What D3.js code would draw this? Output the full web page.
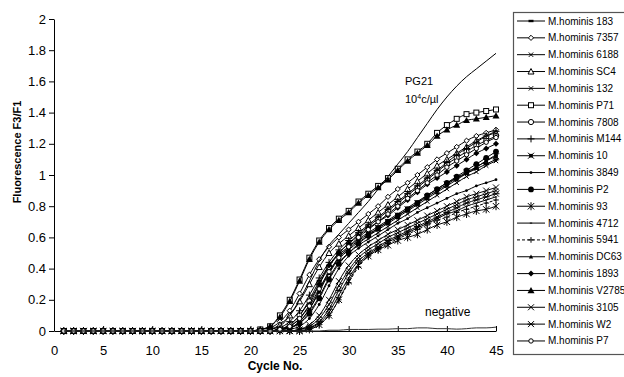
<!DOCTYPE html>
<html>
<head>
<meta charset="utf-8">
<script src="https://cdn.jsdelivr.net/npm/d3@7"></script>
<style>
  body { margin: 0; background: #fff; }
  text { font-family: "Liberation Sans", Arial, sans-serif; fill: #000; }
</style>
</head>
<body>
<svg id="chart" width="624" height="377"></svg>
<script>
// ---- data ----
const cycles = [1,2,3,4,5,6,7,8,9,10,11,12,13,14,15,16,17,18,19,20,21,22,23,24,25,26,27,28,29,30,31,32,33,34,35,36,37,38,39,40,41,42,43,44,45];
const xTicks = [0,5,10,15,20,25,30,35,40,45];
const yTicks = [0,0.2,0.4,0.6,0.8,1,1.2,1.4,1.6,1.8,2];

const seriesNames = ["M.hominis 183","M.hominis 7357","M.hominis 6188","M.hominis SC4","M.hominis 132",
  "M.hominis P71","M.hominis 7808","M.hominis M144","M.hominis 10","M.hominis 3849","M.hominis P2",
  "M.hominis 93","M.hominis 4712","M.hominis 5941","M.hominis DC63","M.hominis 1893","M.hominis V2785",
  "M.hominis 3105","M.hominis W2","M.hominis P7"];

const m183   = [0,0,0,0,0,0,0,0,0,0,0,0,0,0,0,0,0,0,0,0, 0,0,0.01,0.04,0.1,0.2,0.32,0.42,0.49,0.54,0.59,0.63,0.67,0.71,0.75,0.79,0.83,0.87,0.91,0.95,0.98,1.01,1.04,1.07,1.10];
const m7357  = [0,0,0,0,0,0,0,0,0,0,0,0,0,0,0,0,0,0,0,0, 0.01,0.02,0.06,0.13,0.24,0.36,0.46,0.54,0.6,0.65,0.7,0.75,0.8,0.86,0.91,0.95,1.0,1.05,1.1,1.14,1.18,1.22,1.25,1.27,1.29];
const m6188  = [0,0,0,0,0,0,0,0,0,0,0,0,0,0,0,0,0,0,0,0, 0,0,0.01,0.02,0.05,0.12,0.22,0.34,0.44,0.5,0.55,0.59,0.63,0.67,0.71,0.75,0.79,0.83,0.87,0.91,0.95,0.99,1.02,1.06,1.09];
const mSC4   = [0,0,0,0,0,0,0,0,0,0,0,0,0,0,0,0,0,0,0,0, 0,0.01,0.04,0.1,0.19,0.3,0.41,0.5,0.56,0.61,0.66,0.71,0.76,0.81,0.86,0.91,0.96,1.01,1.06,1.1,1.14,1.18,1.22,1.25,1.27];
const m132   = [0,0,0,0,0,0,0,0,0,0,0,0,0,0,0,0,0,0,0,0, 0,0,0,0,0.01,0.03,0.08,0.17,0.29,0.39,0.47,0.52,0.56,0.6,0.63,0.66,0.69,0.72,0.75,0.78,0.81,0.84,0.86,0.88,0.9];
const mP71   = [0,0,0,0,0,0,0,0,0,0,0,0,0,0,0,0,0,0,0,0, 0.01,0.03,0.1,0.2,0.33,0.47,0.58,0.66,0.72,0.77,0.83,0.88,0.93,0.98,1.04,1.1,1.15,1.2,1.27,1.32,1.36,1.39,1.4,1.41,1.42];
const m7808  = [0,0,0,0,0,0,0,0,0,0,0,0,0,0,0,0,0,0,0,0, 0,0,0.01,0.04,0.1,0.19,0.3,0.41,0.5,0.56,0.62,0.67,0.72,0.77,0.82,0.87,0.92,0.97,1.02,1.07,1.11,1.15,1.19,1.22,1.25];
const mM144  = [0,0,0,0,0,0,0,0,0,0,0,0,0,0,0,0,0,0,0,0, 0,0,0.02,0.06,0.13,0.23,0.34,0.44,0.52,0.58,0.63,0.68,0.73,0.78,0.83,0.88,0.93,0.98,1.03,1.08,1.13,1.17,1.21,1.25,1.28];
const m10    = [0,0,0,0,0,0,0,0,0,0,0,0,0,0,0,0,0,0,0,0, 0,0,0.01,0.02,0.06,0.14,0.26,0.38,0.47,0.53,0.58,0.62,0.66,0.7,0.74,0.78,0.82,0.86,0.9,0.94,0.98,1.02,1.05,1.09,1.12];
const m3849  = [0,0,0,0,0,0,0,0,0,0,0,0,0,0,0,0,0,0,0,0, 0,0,0,0.01,0.03,0.08,0.17,0.29,0.4,0.48,0.53,0.57,0.61,0.65,0.69,0.72,0.76,0.79,0.82,0.85,0.88,0.9,0.93,0.95,0.97];
const mP2    = [0,0,0,0,0,0,0,0,0,0,0,0,0,0,0,0,0,0,0,0, 0,0,0.01,0.02,0.05,0.11,0.21,0.33,0.43,0.5,0.56,0.61,0.66,0.7,0.74,0.78,0.82,0.87,0.91,0.95,0.99,1.03,1.07,1.11,1.15];
const m93    = [0,0,0,0,0,0,0,0,0,0,0,0,0,0,0,0,0,0,0,0, 0,0,0,0,0,0.01,0.04,0.1,0.2,0.32,0.42,0.48,0.52,0.55,0.58,0.6,0.62,0.65,0.68,0.7,0.73,0.75,0.77,0.78,0.8];
const m4712  = [0,0,0,0,0,0,0,0,0,0,0,0,0,0,0,0,0,0,0,0, 0,0,0,0,0.01,0.02,0.05,0.12,0.23,0.34,0.43,0.49,0.53,0.57,0.6,0.63,0.66,0.69,0.72,0.75,0.77,0.8,0.82,0.84,0.86];
const m5941  = [0,0,0,0,0,0,0,0,0,0,0,0,0,0,0,0,0,0,0,0, 0,0,0,0,0,0.01,0.04,0.1,0.2,0.31,0.41,0.48,0.52,0.56,0.59,0.62,0.65,0.68,0.71,0.73,0.76,0.78,0.8,0.82,0.84];
const mDC63  = [0,0,0,0,0,0,0,0,0,0,0,0,0,0,0,0,0,0,0,0, 0,0,0.01,0.02,0.06,0.14,0.25,0.37,0.46,0.52,0.57,0.61,0.65,0.69,0.73,0.77,0.81,0.85,0.89,0.93,0.97,1.01,1.05,1.09,1.13];
const m1893  = [0,0,0,0,0,0,0,0,0,0,0,0,0,0,0,0,0,0,0,0, 0,0,0.01,0.03,0.08,0.17,0.3,0.42,0.5,0.56,0.61,0.66,0.7,0.74,0.79,0.84,0.89,0.94,0.98,1.02,1.06,1.1,1.14,1.17,1.2];
const mV2785 = [0,0,0,0,0,0,0,0,0,0,0,0,0,0,0,0,0,0,0,0, 0.01,0.03,0.09,0.19,0.32,0.46,0.57,0.65,0.71,0.76,0.82,0.87,0.92,0.97,1.03,1.09,1.14,1.19,1.25,1.29,1.32,1.35,1.36,1.37,1.38];
const m3105  = [0,0,0,0,0,0,0,0,0,0,0,0,0,0,0,0,0,0,0,0, 0,0,0,0,0.01,0.04,0.1,0.2,0.32,0.42,0.49,0.54,0.58,0.62,0.65,0.68,0.71,0.74,0.77,0.8,0.83,0.86,0.88,0.9,0.92];
const mW2    = [0,0,0,0,0,0,0,0,0,0,0,0,0,0,0,0,0,0,0,0, 0,0,0,0,0,0.02,0.06,0.14,0.26,0.37,0.45,0.5,0.54,0.58,0.61,0.64,0.67,0.7,0.73,0.76,0.79,0.82,0.84,0.86,0.88];
const mP7    = [0,0,0,0,0,0,0,0,0,0,0,0,0,0,0,0,0,0,0,0, 0,0,0.01,0.03,0.08,0.16,0.27,0.38,0.47,0.54,0.6,0.65,0.7,0.75,0.8,0.85,0.9,0.95,1.0,1.05,1.09,1.13,1.17,1.21,1.24];

// positive control and negative control, drawn as plain lines
const pg21     = [0,0,0,0,0,0,0,0,0,0,0,0,0,0,0,0,0,0,0,0, 0,0.01,0.03,0.1,0.2,0.32,0.45,0.55,0.62,0.69,0.76,0.83,0.91,0.99,1.07,1.15,1.24,1.33,1.42,1.5,1.57,1.63,1.68,1.73,1.78];
const negative = [0,0,0,0,0,0,0,0,0,0,0,0,0,0,0,0,0,0,0,0, 0,0,0,0,0,0,0,0.005,0.005,0.01,0.01,0.01,0.012,0.012,0.015,0.015,0.02,0.02,0.015,0.015,0.012,0.015,0.02,0.02,0.025];

const seriesValues = [m183,m7357,m6188,mSC4,m132,mP71,m7808,mM144,m10,m3849,mP2,m93,m4712,m5941,mDC63,m1893,mV2785,m3105,mW2,mP7];

// marker style per series (same order as names)
const markerTypes = ["dash","diamondOpen","crossSmall","triOpen","crossSmall","squareOpen","circleOpen","plus",
  "starBox","dot","circleFill","asterisk","tiny","plusSmall","triSmall","diamondFill","triFill","cross","crossBar","circleSmall"];

// ---- chart ----
const svg = d3.select("#chart");
const x = d3.scaleLinear().domain([0, 45]).range([54, 496]);
const y = d3.scaleLinear().domain([0, 2]).range([331, 19]);

function drawMarker(g, type) {
  const ink = "#000";
  switch (type) {
    case "dash":
      g.append("rect").attr("x", -2.5).attr("y", -1.2).attr("width", 5).attr("height", 2.4).attr("fill", ink);
      break;
    case "diamondOpen":
      g.append("path").attr("d", "M0,-2.6L2.6,0L0,2.6L-2.6,0Z").attr("fill", "#fff").attr("stroke", ink);
      break;
    case "crossSmall":
      g.append("path").attr("d", "M-2.2,-2.2L2.2,2.2M-2.2,2.2L2.2,-2.2").attr("stroke", ink);
      break;
    case "triOpen":
      g.append("path").attr("d", "M0,-3L3,2.5L-3,2.5Z").attr("fill", "#fff").attr("stroke", ink);
      break;
    case "squareOpen":
      g.append("rect").attr("x", -2.5).attr("y", -2.5).attr("width", 5).attr("height", 5).attr("fill", "#fff").attr("stroke", ink);
      break;
    case "circleOpen":
      g.append("circle").attr("r", 2.6).attr("fill", "#fff").attr("stroke", ink);
      break;
    case "plus":
      g.append("path").attr("d", "M0,-3.5V3.5M-3.5,0H3.5").attr("stroke", ink);
      break;
    case "starBox":
      g.append("rect").attr("x", -1.8).attr("y", -1.8).attr("width", 3.6).attr("height", 3.6).attr("fill", ink);
      g.append("path").attr("d", "M-3,-3L3,3M-3,3L3,-3").attr("stroke", ink);
      break;
    case "dot":
      g.append("circle").attr("r", 1.4).attr("fill", ink);
      break;
    case "circleFill":
      g.append("circle").attr("r", 2.9).attr("fill", ink);
      break;
    case "asterisk":
      g.append("path").attr("d", "M-3.2,-3.2L3.2,3.2M-3.2,3.2L3.2,-3.2M0,-4V4").attr("stroke", ink);
      break;
    case "tiny":
      g.append("path").attr("d", "M-1.2,0H1.2").attr("stroke", ink);
      break;
    case "plusSmall":
      g.append("path").attr("d", "M0,-2.8V2.8M-2.8,0H2.8").attr("stroke", ink);
      break;
    case "triSmall":
      g.append("path").attr("d", "M0,-2.2L2.2,1.8L-2.2,1.8Z").attr("fill", ink);
      break;
    case "diamondFill":
      g.append("path").attr("d", "M0,-3L3,0L0,3L-3,0Z").attr("fill", ink);
      break;
    case "triFill":
      g.append("path").attr("d", "M0,-3.5L3.5,2.7L-3.5,2.7Z").attr("fill", ink);
      break;
    case "cross":
      g.append("path").attr("d", "M-3,-3L3,3M-3,3L3,-3").attr("stroke", ink);
      break;
    case "crossBar":
      g.append("path").attr("d", "M-3,-3L3,3M-3,3L3,-3M-3.5,0H3.5").attr("stroke", ink);
      break;
    case "circleSmall":
      g.append("circle").attr("r", 2.2).attr("fill", "#fff").attr("stroke", ink);
      break;
  }
}

// axes
const yAxis = svg.append("g")
  .attr("transform", "translate(" + x(0) + ",0)")
  .call(d3.axisLeft(y).tickValues(yTicks).tickSizeInner(5).tickSizeOuter(0).tickPadding(3)
    .tickFormat(d => String(+d.toFixed(1))));
yAxis.selectAll("text").style("font-size", "13px");

const xAxis = svg.append("g")
  .attr("transform", "translate(0," + y(0) + ")")
  .call(d3.axisBottom(x).tickValues(xTicks).tickSizeInner(-5).tickSizeOuter(0).tickPadding(15)
    .tickFormat(d3.format("d")));
xAxis.selectAll("text").style("font-size", "13px");
svg.selectAll(".domain, .tick line").attr("stroke", "#000");

svg.append("text")
  .attr("x", 275).attr("y", 370)
  .attr("text-anchor", "middle")
  .style("font-size", "12px").style("font-weight", "bold")
  .text("Cycle No.");

svg.append("text")
  .attr("transform", "translate(21,152) rotate(-90)")
  .attr("text-anchor", "middle")
  .style("font-size", "11px").style("font-weight", "bold")
  .text("Fluorescence F3/F1");

// lines
const line = d3.line()
  .x((d, i) => x(cycles[i]))
  .y(d => y(d))
  .curve(d3.curveMonotoneX);

const plot = svg.append("g");

seriesValues.forEach((vals, k) => {
  plot.append("path")
    .attr("d", line(vals))
    .attr("fill", "none")
    .attr("stroke", "#000")
    .attr("stroke-width", 1)
    .attr("stroke-dasharray", markerTypes[k] === "plusSmall" ? "3,2" : null);
  vals.forEach((v, i) => {
    const g = plot.append("g").attr("transform", "translate(" + x(cycles[i]) + "," + y(v) + ")");
    drawMarker(g, markerTypes[k]);
  });
});

plot.append("path").attr("d", line(pg21)).attr("fill", "none").attr("stroke", "#000").attr("stroke-width", 1);
plot.append("path").attr("d", line(negative)).attr("fill", "none").attr("stroke", "#333").attr("stroke-width", 1);

// annotations
svg.append("text").attr("x", 405).attr("y", 85).style("font-size", "11px").text("PG21");
const conc = svg.append("text").attr("x", 405).attr("y", 103).style("font-size", "11px");
conc.append("tspan").text("10");
conc.append("tspan").attr("dy", -4).style("font-size", "7px").text("4");
conc.append("tspan").attr("dy", 4).text("c/\u00b5l");
svg.append("text").attr("x", 425).attr("y", 316).style("font-size", "12px").text("negative");

// legend
const legend = svg.append("g");
legend.append("rect")
  .attr("x", 513.5).attr("y", 12.5).attr("width", 130).attr("height", 342)
  .attr("fill", "#fff").attr("stroke", "#555").attr("stroke-width", 1.2);

seriesNames.forEach((name, k) => {
  const ly = 21 + k * 16.84;
  legend.append("line")
    .attr("x1", 517).attr("x2", 545).attr("y1", ly).attr("y2", ly)
    .attr("stroke", "#000")
    .attr("stroke-dasharray", markerTypes[k] === "plusSmall" ? "3,2" : null);
  drawMarker(legend.append("g").attr("transform", "translate(531," + ly + ")"), markerTypes[k]);
  legend.append("text")
    .attr("x", 548).attr("y", ly).attr("dy", "0.35em")
    .style("font-size", "10px")
    .text(name);
});
</script>
</body>
</html>
